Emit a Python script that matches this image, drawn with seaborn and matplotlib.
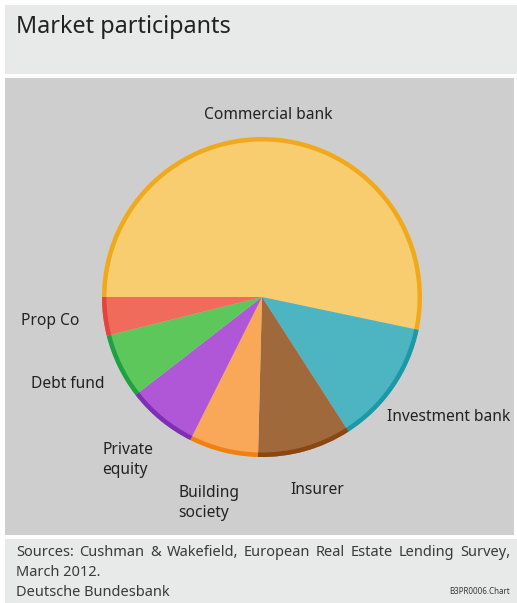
import matplotlib
matplotlib.use("Agg")
import matplotlib.pyplot as plt
from matplotlib.patches import Rectangle
import seaborn as sns

# Lenders in European real estate (share of market participants, %)
participants = ["Commercial bank", "Investment bank", "Insurer", "Building society",
                "Private equity", "Debt fund", "Prop Co"]
shares = [53.3, 12.6, 9.5, 7.0, 7.1, 6.6, 3.9]
label_texts = ["Commercial bank", "Investment bank", "Insurer", "Building\nsociety",
               "Private\nequity", "Debt fund", "Prop Co"]

fill_colors = ["#F8CD70", "#4DB5C2", "#A0693B", "#F8A858", "#B057D8", "#5DC75C", "#F06B5B"]
rim_colors = ["#F0A91C", "#1C99A8", "#8A4712", "#EE8112", "#7F2FB2", "#1FA043", "#E2443E"]

title = "Market participants"
source_lines = ["Sources: Cushman & Wakefield, European Real Estate Lending Survey,",
                "March 2012."]
publisher = "Deutsche Bundesbank"
chart_id = "B3PR0006.Chart"

sns.set_theme(style="white")
plt.rcParams["font.family"] = ["Noto Sans", "DejaVu Sans"]

W, H = 517, 603
fig = plt.figure(figsize=(W / 100, H / 100), dpi=100)
fig.patch.set_facecolor("white")


def fx(x):
    return x / W


def fy(y):
    return 1 - y / H


def band(x0, y0, x1, y1, color):
    fig.add_artist(Rectangle((fx(x0), fy(y1)), fx(x1) - fx(x0), fy(y0) - fy(y1),
                             transform=fig.transFigure, facecolor=color,
                             edgecolor="none", zorder=0))


# header, plot area and footer panels
band(5, 5, 517, 74, "#E8E9E9")
band(5, 78, 514, 535, "#CDCECD")
band(5, 539, 517, 603, "#E8E9E9")

text_color = "#222222"
fig.text(fx(16), fy(27), title, fontsize=16.8, color=text_color, va="center", ha="left")

# pie axes: centre (262, 297) px, radius 160 px
cx, cy, r = 262, 297, 160
half = 200
ax = fig.add_axes([fx(cx - half), fy(cy + half), 2 * half / W, 2 * half / H])
ax.set_xlim(-half / r, half / r)
ax.set_ylim(-half / r, half / r)
ax.set_aspect("equal")
ax.axis("off")

ax.pie(shares, colors=fill_colors, startangle=180, counterclock=False, radius=1.0,
       wedgeprops=dict(linewidth=0, edgecolor="none"))
ax.pie(shares, colors=rim_colors, startangle=180, counterclock=False, radius=1.0,
       wedgeprops=dict(width=0.028, linewidth=0, edgecolor="none"))

# category labels (pixel anchor positions)
label_pos = {
    "Commercial bank": (268, 115, "center"),
    "Investment bank": (387, 417, "left"),
    "Insurer": (290, 490, "left"),
    "Building\nsociety": (178, 503, "left"),
    "Private\nequity": (102, 460, "left"),
    "Debt fund": (31, 384, "left"),
    "Prop Co": (21, 321, "left"),
}
for txt in label_texts:
    x, y, ha = label_pos[txt]
    fig.text(fx(x), fy(y), txt, fontsize=11.2, color=text_color, ha=ha, va="center",
             linespacing=1.35)

foot_color = "#3a3a3a"
foot_size = 10.5

# first source line is set justified between the panel margins
renderer = fig.canvas.get_renderer()
words = source_lines[0].split(" ")
word_artists = [fig.text(0, fy(553), w, fontsize=foot_size, color=foot_color,
                         ha="left", va="center") for w in words]
widths = [a.get_window_extent(renderer).width for a in word_artists]
left_px, right_px = 16, 510
gap = (right_px - left_px - sum(widths)) / (len(words) - 1)
xpos = left_px
for a, w in zip(word_artists, widths):
    a.set_x(fx(xpos))
    xpos += w + gap

fig.text(fx(16), fy(572), source_lines[1], fontsize=foot_size, color=foot_color,
         ha="left", va="center")
fig.text(fx(16), fy(592), publisher, fontsize=foot_size, color=foot_color,
         ha="left", va="center")
fig.text(fx(510), fy(592), chart_id, fontsize=5.8, color=foot_color,
         ha="right", va="center")

fig.savefig("out.png", dpi=100, facecolor=fig.get_facecolor())
